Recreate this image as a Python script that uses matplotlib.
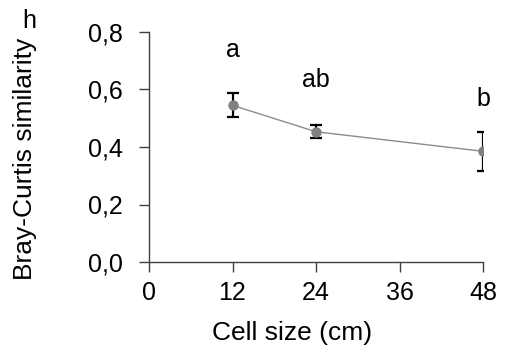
import matplotlib
matplotlib.use("Agg")
import matplotlib.pyplot as plt

cell_size = [12, 24, 48]
similarity = [0.545, 0.453, 0.385]
errors = [0.042, 0.022, 0.068]
letters = ["a", "ab", "b"]
letter_y = [0.737, 0.633, 0.567]
xticks = [0, 12, 24, 36, 48]
yticks = [0.0, 0.2, 0.4, 0.6, 0.8]
ytick_labels = ["0,0", "0,2", "0,4", "0,6", "0,8"]

plt.rcParams['font.family'] = ['Liberation Sans', 'DejaVu Sans']
FS = 18
LFS = 19

fig = plt.figure(figsize=(5.07, 3.58), dpi=100)
ax = fig.add_axes([149/507, 1-262/358, (483-149)/507, (262-32)/358])

ax.plot(cell_size, similarity, color='#8c8c8c', lw=1.0, zorder=2)
ax.errorbar(cell_size, similarity, yerr=errors, fmt='none', ecolor='black',
            elinewidth=1.6, capsize=4.6, capthick=1.6, zorder=3)
ax.plot(cell_size, similarity, 'o', color='#808080', ms=6.5, zorder=4)

for x, y, t in zip(cell_size, letter_y, letters):
    ax.text(x, y, t, ha='center', va='center', fontsize=FS)

ax.set_xlim(0, 48)
ax.set_ylim(0, 0.8)
ax.set_xticks(xticks)
ax.set_yticks(yticks)
ax.set_yticklabels(ytick_labels)
ax.tick_params(axis='both', direction='out', length=7, width=1, labelsize=FS,
               color='#404040')
ax.tick_params(axis='y', pad=12)
ax.tick_params(axis='x', pad=7)
for s in ['top', 'right']:
    ax.spines[s].set_visible(False)
for s in ['left', 'bottom']:
    ax.spines[s].set_color('#404040')
    ax.spines[s].set_linewidth(1)
ax.spines['bottom'].set_bounds(0, 48)

fig.text(292/507, 1-333/358, 'Cell size (cm)', fontsize=LFS, ha='center', va='center')
fig.text(25/507, 1-159/358, 'Bray-Curtis similarity', fontsize=LFS, ha='center',
         va='center', rotation=90)
fig.text(29/507, 1-21/358, 'h', fontsize=FS, ha='center', va='center')

fig.savefig('out.png', dpi=100)
